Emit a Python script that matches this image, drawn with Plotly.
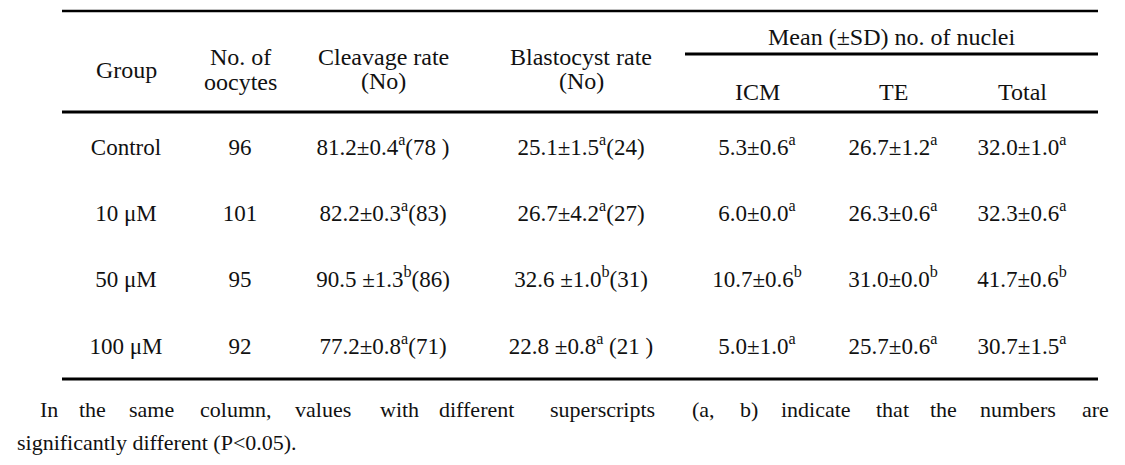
import plotly.graph_objects as go

# ---------------- data ----------------
groups = ["Control", "10 μM", "50 μM", "100 μM"]
oocytes = [96, 101, 95, 92]

cleavage_rate = ["81.2±0.4", "82.2±0.3", "90.5 ±1.3", "77.2±0.8"]
cleavage_sup = ["a", "a", "b", "a"]
cleavage_no = ["(78 )", "(83)", "(86)", "(71)"]

blast_rate = ["25.1±1.5", "26.7±4.2", "32.6 ±1.0", "22.8 ±0.8"]
blast_sup = ["a", "a", "b", "a"]
blast_no = ["(24)", "(27)", "(31)", " (21 )"]

icm = ["5.3±0.6", "6.0±0.0", "10.7±0.6", "5.0±1.0"]
icm_sup = ["a", "a", "b", "a"]
te = ["26.7±1.2", "26.3±0.6", "31.0±0.0", "25.7±0.6"]
te_sup = ["a", "a", "b", "a"]
total = ["32.0±1.0", "32.3±0.6", "41.7±0.6", "30.7±1.5"]
total_sup = ["a", "a", "b", "a"]

footnote_line1 = "In the same column, values with different superscripts (a, b) indicate that the numbers are"
footnote_line2 = "significantly different (P<0.05)."

# ---------------- layout constants ----------------
# page body has an 8px margin: shift the axis ranges so coordinates equal window pixels
OFF = 8
W, H = 1125, 465
FIG_W, FIG_H = W - 2 * OFF, H - 2 * OFF
FONT = "Liberation Serif"
FS = 23
HFS = 24
INK = "#111"
col_x = [126, 240, 383, 581, 757, 893, 1022]
row_y = [149, 215, 281, 348]
x_left, x_right = 62, 1098


def sup(s):
    return "<sup>" + s + "</sup>"


columns = [
    groups,
    [str(v) for v in oocytes],
    [a + sup(b) + c for a, b, c in zip(cleavage_rate, cleavage_sup, cleavage_no)],
    [a + sup(b) + c for a, b, c in zip(blast_rate, blast_sup, blast_no)],
    [a + sup(b) for a, b in zip(icm, icm_sup)],
    [a + sup(b) for a, b in zip(te, te_sup)],
    [a + sup(b) for a, b in zip(total, total_sup)],
]

fig = go.Figure()
for cx, cells in zip(col_x, columns):
    fig.add_trace(go.Scatter(
        x=[cx] * len(cells), y=row_y, text=cells, mode="text",
        textposition="middle center",
        textfont=dict(family=FONT, size=FS, color=INK),
        hoverinfo="skip", showlegend=False,
    ))

# header
headers = [
    ("Group", col_x[0], 70),
    ("No. of", col_x[1], 57), ("oocytes", col_x[1], 82),
    ("Cleavage rate", col_x[2], 57), ("(No)", col_x[2], 81),
    ("Blastocyst rate", col_x[3], 57), ("(No)", col_x[3], 81),
    ("Mean (±SD) no. of nuclei", 891, 37),
    ("ICM", col_x[4], 92), ("TE", col_x[5], 92), ("Total", col_x[6], 92),
]
for txt, x, y in headers:
    fig.add_annotation(x=x, y=y, xref="x", yref="y", text=txt, showarrow=False,
                       xanchor="center", yanchor="middle",
                       font=dict(family=FONT, size=HFS, color=INK))

# rules
rules = [
    (x_left, x_right, 11, 2.5),
    (685, x_right, 54, 3),
    (x_left, x_right, 112, 3),
    (x_left, x_right, 379, 3),
]
for x0, x1, y, w in rules:
    fig.add_shape(type="line", x0=x0, x1=x1, y0=y, y1=y, xref="x", yref="y",
                  line=dict(color="black", width=w))

# footnote line 1, justified word by word (word starts as in the reference)
FN_FS = 22
words = footnote_line1.split(" ")
word_x = [38, 77, 127, 198, 293, 378, 437, 548, 690, 738, 779, 874, 928, 978, 1080]
for w_, wx in zip(words, word_x):
    fig.add_annotation(x=wx, y=409, xref="x", yref="y", text=w_, showarrow=False,
                       xanchor="left", yanchor="middle",
                       font=dict(family=FONT, size=FN_FS, color=INK))
fig.add_annotation(x=15, y=442, xref="x", yref="y", text=footnote_line2, showarrow=False,
                   xanchor="left", yanchor="middle",
                   font=dict(family=FONT, size=FN_FS, color=INK))

fig.update_layout(
    width=FIG_W, height=FIG_H, margin=dict(l=0, r=0, t=0, b=0),
    paper_bgcolor="white", plot_bgcolor="white",
    font=dict(family=FONT, size=FS, color=INK),
    xaxis=dict(range=[OFF, OFF + FIG_W], visible=False, fixedrange=True),
    yaxis=dict(range=[OFF + FIG_H, OFF], visible=False, fixedrange=True),
)
fig.write_html("out.html")
